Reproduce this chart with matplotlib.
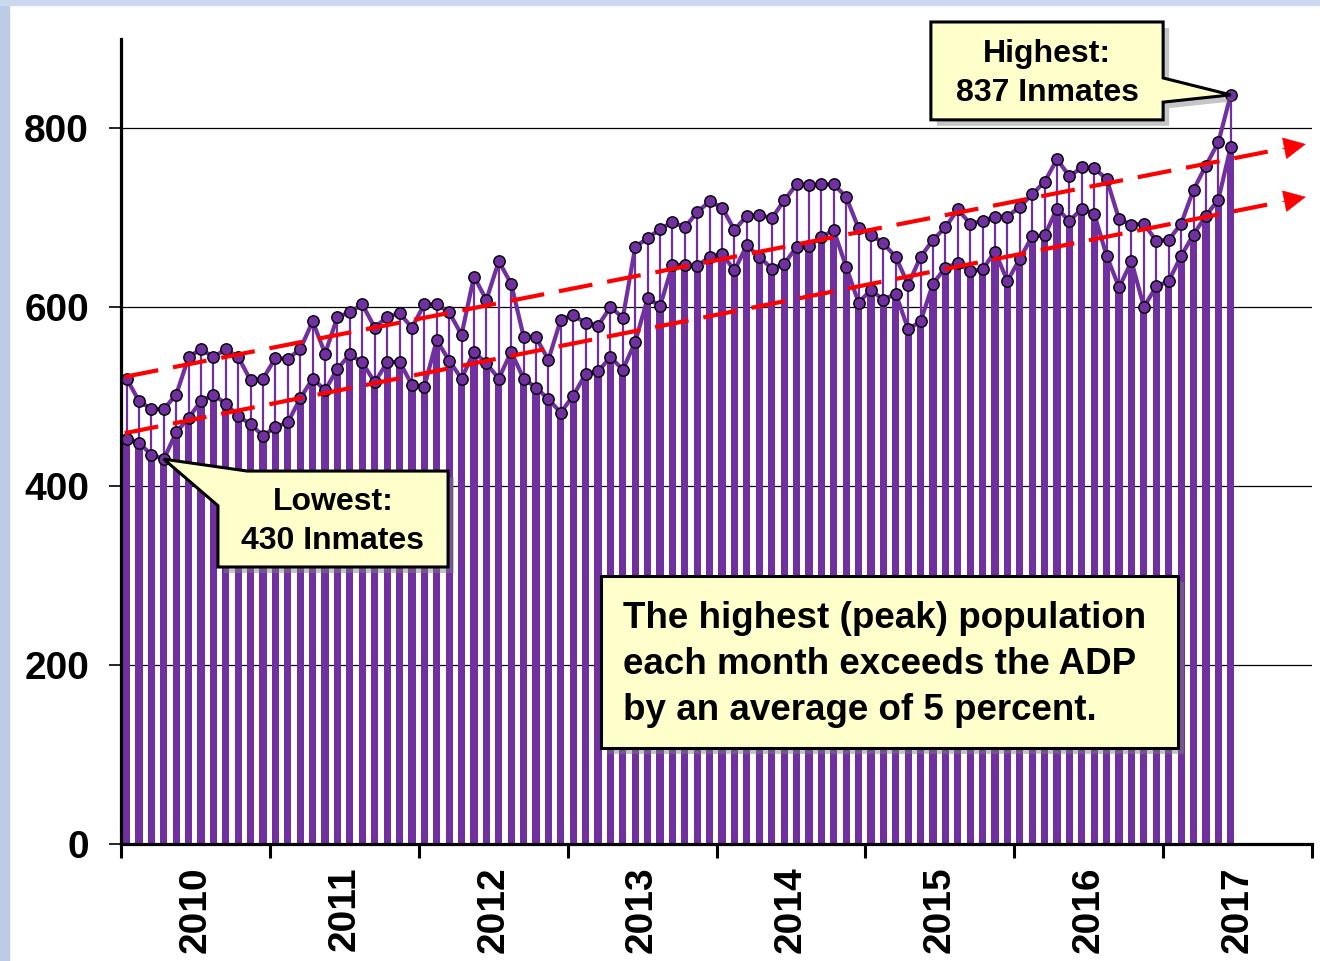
import numpy as np
import matplotlib
matplotlib.use("Agg")
import matplotlib.pyplot as plt
from matplotlib.patches import Polygon, Rectangle
from matplotlib import transforms

# monthly jail population, Jan 2010 - Jun 2017
years = ["2010", "2011", "2012", "2013", "2014", "2015", "2016", "2017"]

# highest (peak) population each month
peak = [520, 495, 486, 486, 502, 544, 553, 544, 553, 544, 518, 520,
        543, 542, 553, 584, 548, 589, 594, 603, 577, 589, 593, 577,
        603, 603, 594, 569, 634, 608, 651, 626, 567, 566, 541, 586,
        591, 582, 579, 600, 588, 667, 677, 687, 695, 689, 706, 718,
        711, 686, 702, 703, 699, 719, 737, 736, 737, 737, 723, 688,
        681, 671, 656, 625, 656, 675, 689, 709, 693, 696, 701, 701,
        712, 726, 740, 765, 746, 756, 755, 743, 698, 692, 693, 674,
        675, 693, 731, 758, 784, 837]

# average daily population (ADP)
adp = [453, 448, 435, 430, 460, 476, 495, 502, 492, 478, 469, 456,
       466, 471, 498, 520, 507, 531, 547, 538, 516, 538, 539, 513,
       511, 563, 540, 520, 550, 537, 520, 550, 520, 510, 497, 482,
       501, 525, 528, 544, 530, 561, 610, 601, 647, 647, 646, 656,
       659, 641, 669, 656, 643, 648, 667, 668, 678, 686, 645, 605,
       619, 608, 615, 575, 584, 626, 644, 649, 640, 642, 662, 629,
       654, 679, 680, 710, 696, 710, 704, 657, 622, 651, 600, 623,
       629, 657, 681, 702, 720, 779]

# dashed trend arrows (start / end, months from Jan 2010)
trend_x = [0.3, 95.5]
trend_hi = [522, 782]
trend_lo = [459, 723]

PURPLE = "#7030A0"
NOTE_FILL = "#FFFFCC"

plt.rcParams["font.family"] = ["Liberation Sans", "DejaVu Sans"]
plt.rcParams["font.weight"] = "bold"


def to_axes(ax, xy):
    return ax.transAxes.inverted().transform(ax.transData.transform(xy))


def note_shape(ax, fig, verts):
    # drop shadow then yellow box
    shadow_tr = ax.transAxes + transforms.ScaledTranslation(6 / 100, -6 / 100, fig.dpi_scale_trans)
    ax.add_patch(Polygon(verts, closed=True, transform=shadow_tr, fc="#7f7f7f", ec="none",
                         alpha=0.45, clip_on=False, zorder=5))
    ax.add_patch(Polygon(verts, closed=True, transform=ax.transAxes, fc=NOTE_FILL, ec="black",
                         lw=2.2, joinstyle="miter", clip_on=False, zorder=6))


def draw_trend(ax, xs, ys):
    slope = (ys[1] - ys[0]) / (xs[1] - xs[0])
    x_end = xs[1] - 2.2
    ax.plot([xs[0], x_end], [ys[0], ys[0] + slope * (x_end - xs[0])], color="red", lw=3,
            dashes=(8.2, 3.6), solid_capstyle="butt", zorder=4)
    ax.annotate("", xy=(xs[1], ys[1]), xytext=(xs[1] - 1.9, ys[1] - slope * 1.9),
                arrowprops=dict(arrowstyle="-|>,head_length=1.0,head_width=0.5", color="red",
                                lw=0.5, mutation_scale=15, shrinkA=0, shrinkB=0), zorder=4)


fig = plt.figure(figsize=(13.2, 9.61), dpi=100)
ax = fig.add_axes([121 / 1320, 117 / 961, 1191 / 1320, 805.5 / 961])

# light blue slide border on the left and top
fig.patches.append(Rectangle((0, 0), 9 / 1320, 1, transform=fig.transFigure,
                             color="#bccce6", zorder=0))
fig.patches.append(Rectangle((0, 1 - 5 / 961), 1, 5 / 961, transform=fig.transFigure,
                             color="#cbd8ee", zorder=0))

x = np.arange(len(adp)) + 0.45
ax.bar(x, adp, width=0.58, color=PURPLE, zorder=2)
ax.vlines(x, adp, peak, color=PURPLE, lw=1.6, zorder=2)
ax.plot(x, adp, color=PURPLE, lw=3, marker="o", ms=8.2, mfc=PURPLE, mec="black", mew=1.0, zorder=3)
ax.plot(x, peak, color=PURPLE, lw=3, marker="o", ms=8.2, mfc=PURPLE, mec="black", mew=1.0, zorder=3)

draw_trend(ax, trend_x, trend_hi)
draw_trend(ax, trend_x, trend_lo)

ax.set_xlim(0, 96)
ax.set_ylim(0, 900)
ax.set_xticks(np.arange(0, 97, 12))
ax.set_xticklabels([])
ax.set_xticks(np.arange(6, 96, 12), minor=True)
ax.set_xticklabels(years, minor=True, rotation=90, fontsize=28, fontweight="bold")
ax.tick_params(axis="x", which="major", length=10, width=2.2, direction="out")
ax.tick_params(axis="x", which="minor", length=0, pad=16)
ax.set_yticks([0, 200, 400, 600, 800])
ax.set_yticklabels(["0", "200", "400", "600", "800"], fontsize=28, fontweight="bold")
ax.tick_params(axis="y", length=9, width=1.2, pad=14)
ax.yaxis.grid(True, color="black", lw=0.9)
ax.set_axisbelow(True)
for side in ["top", "right"]:
    ax.spines[side].set_visible(False)
for side in ["left", "bottom"]:
    ax.spines[side].set_linewidth(2.3)
    ax.spines[side].set_zorder(8)

# callout: highest
i_hi = int(np.argmax(peak))
tx, ty = to_axes(ax, (x[i_hi], peak[i_hi]))
hx0, hx1, hy0, hy1 = 0.680, 0.875, 0.899, 1.0205
note_shape(ax, fig, [(hx0, hy0), (hx1, hy0), (hx1, 0.921), (tx, ty), (hx1, 0.951),
                     (hx1, hy1), (hx0, hy1)])
ax.text((hx0 + hx1) / 2, 0.9565, f"Highest:\n{peak[i_hi]} Inmates", transform=ax.transAxes,
        ha="center", va="center", fontsize=23, fontweight="bold", linespacing=1.38, zorder=7)

# callout: lowest
i_lo = int(np.argmin(adp))
tx, ty = to_axes(ax, (x[i_lo], adp[i_lo]))
lx0, lx1, ly0, ly1 = 0.0814, 0.2746, 0.3439, 0.463
note_shape(ax, fig, [(lx0, ly0), (lx1, ly0), (lx1, ly1), (0.106, ly1), (tx, ty),
                     (lx0, 0.420)])
ax.text((lx0 + lx1) / 2, 0.4005, f"Lowest:\n{adp[i_lo]} Inmates", transform=ax.transAxes,
        ha="center", va="center", fontsize=23, fontweight="bold", linespacing=1.38, zorder=7)

# note box
bx0, bx1, by0, by1 = 0.403, 0.8875, 0.119, 0.3327
note_shape(ax, fig, [(bx0, by0), (bx1, by0), (bx1, by1), (bx0, by1)])
ax.text(0.4215, 0.2225, "The highest (peak) population\neach month exceeds the ADP\n"
        "by an average of 5 percent.", transform=ax.transAxes, ha="left", va="center",
        fontsize=26.5, fontweight="bold", linespacing=1.4, zorder=7)

fig.savefig("out.png", dpi=100)
